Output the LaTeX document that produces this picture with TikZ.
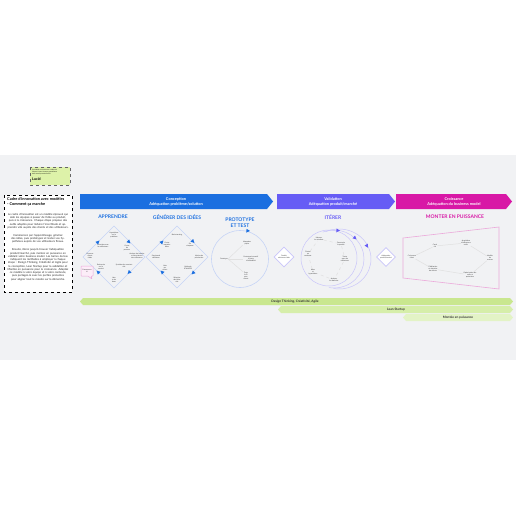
\documentclass[tikz,border=0pt]{standalone}
\usepackage{fontspec}
\setmainfont{Lato}
\usetikzlibrary{arrows.meta,shapes.geometric,positioning}

\definecolor{band}{HTML}{F1F2F4}
\definecolor{concept}{HTML}{1B6FE0}
\definecolor{valid}{HTML}{665CF5}
\definecolor{growth}{HTML}{D818A6}
\definecolor{rim}{HTML}{C6D4F6}
\definecolor{vrim}{HTML}{C9C5FA}
\definecolor{grim}{HTML}{EBA9DA}
\definecolor{greenA}{HTML}{C9E78F}
\definecolor{greenB}{HTML}{D6EEAA}
\definecolor{greenC}{HTML}{E3F3C6}
\definecolor{note}{HTML}{DDF2A9}

\tikzset{
  tiny/.style={font=\fontsize{1.7}{2}\selectfont, align=center, text=black!80, inner sep=0.2pt},
  prose/.style={font=\fontsize{2.75}{3.25}\selectfont, align=center, text=black!85, inner sep=0pt, text width=62},
  banner/.style={text=white, font=\fontsize{3.9}{4.8}\selectfont\bfseries, align=center},
  phase/.style={font=\fontsize{5}{5.8}\selectfont\bfseries, align=center},
  bartext/.style={font=\fontsize{3.2}{3.5}\selectfont\bfseries, text=black!80},
  link/.style={draw=black!12, line width=0.5pt},
  loop/.style={draw=vrim, line width=0.5pt}
}

% small arrow tip on a path
\newcommand{\tip}[4]{%
  \fill[#4, shift={(#1,#2)}, rotate=#3] (2,0) -- (-1.6,1.9) -- (-1.6,-1.9) -- cycle;}

\begin{document}
\begin{tikzpicture}[x=1pt, y=-1pt]
  \useasboundingbox (0,0) rectangle (516,516);
  \fill[white] (0,0) rectangle (516,516);
  \fill[band] (0,155) rectangle (516,360);

  % note and explanation
  \draw[dashed, draw=black!60, fill=note, line width=0.3pt] (30,167) rectangle (70,185);
  \node[anchor=north west, align=left, inner sep=0, font=\fontsize{1.5}{1.9}\selectfont] (notetxt) at (32,169)
        {Ce modèle a été créé avec Lucidspark.\\Cliquez ici pour l'essayer gratuitement\\dans votre espace de travail.};
  \node[anchor=north west, inner sep=0, font=\fontsize{3.6}{4}\selectfont\bfseries] (lucid) at (32,177.5) {Lucid};
  \draw[dashed, line width=0.5pt, fill=white] (4,195) rectangle (72,292);
  \node[anchor=north west, align=left, inner sep=0, font=\fontsize{3.9}{4.9}\selectfont\bfseries] (howto) at (7,197.5)
        {Cadre d'innovation avec modèles\\- Comment ça marche};
  \node[prose, anchor=north] (par1) at (38,213)
        {Le cadre d'innovation est un modèle éprouvé qui aide les équipes à passer de l'idée au produit, puis à la croissance. Chaque étape propose des outils adaptés pour réduire l'incertitude et apprendre vite auprès des clients et des utilisateurs.};
  \node[prose, below=5pt of par1] (par2)
        {Commencez par l'apprentissage, générez des idées, puis prototypez et testez vos hypothèses auprès de vos utilisateurs finaux.};
  \node[prose, below=5pt of par2] (par3)
        {Ensuite, itérez jusqu'à trouver l'adéquation produit/marché, puis montez en puissance en validant votre business model. Les barres du bas indiquent les méthodes à employer à chaque étape : Design Thinking, Créativité et Agile pour la conception, Lean Startup pour la validation et Montée en puissance pour la croissance. Adaptez ce modèle à votre équipe et à votre contexte, puis partagez-le avec les parties prenantes pour aligner tout le monde sur la démarche.};

  % phase banners
  \fill[concept] (80,194) -- (267,194) -- (273,201.5) -- (267,209) -- (80,209) -- cycle;
  \node[banner] (conc) at (176,201.5) {Conception\\Adéquation problème/solution};
  \fill[valid] (277,194) -- (389,194) -- (395,201.5) -- (389,209) -- (277,209) -- cycle;
  \node[banner] (valid) at (333,201.5) {Validation\\Adéquation produit/marché};
  \fill[growth] (396,194) -- (506,194) -- (512,201.5) -- (506,209) -- (396,209) -- cycle;
  \node[banner] (grow) at (454,201.5) {Croissance\\Adéquation du business model};

  \node[phase, text=concept] (learn) at (113,217) {APPRENDRE};
  \node[phase, text=concept] (ideas) at (177,217) {GÉNÉRER DES IDÉES};
  \node[phase, text=concept] (proto) at (240,222.5) {PROTOTYPE\\ET TEST};
  \node[phase, text=valid] (iter) at (333,217) {ITÉRER};
  \node[phase, text=growth] (scale) at (455,217) {MONTER EN PUISSANCE};

  % learn diamond
  \draw[rim, line width=0.6pt] (114,226) -- (145,257) -- (114,288) -- (83,257) -- cycle;
  \node[tiny] (l1) at (114,235) {Hypothèses\\sur le\\problème};
  \node[tiny] (l2) at (103,246) {Entretiens avec\\les utilisateurs};
  \node[tiny] (l3) at (127,248) {Cartes\\de\\parcours};
  \node[tiny] (l4) at (90,256) {Personas\\clients\\cibles};
  \node[tiny] (l5) at (137,256) {Analyse des besoins\\et des attentes\\des utilisateurs};
  \node[tiny] (l6) at (101,267) {Recherche\\sur le\\marché};
  \node[tiny] (l7) at (124,266) {Synthèse des constats\\clés};
  \node[tiny] (l8) at (114,280) {Jobs\\to be\\done};
  \tip{98}{242}{45}{concept}
  \tip{129}{242}{-45}{concept}
  \tip{129}{272.5}{-135}{concept}
  \tip{98}{272}{135}{concept}
  \draw[draw=grim, fill=growth!8, line width=0.5pt, rounded corners=0.6pt]
       (81,266) -- (93,266) -- (93,276) -- (91,276) -- (92,279) -- (88,276) -- (81,276) -- cycle;
  \node[tiny] (start) at (87,271) {Commencez\\ici};

  % ideas diamond
  \draw[rim, line width=0.6pt] (177,226) -- (208,257) -- (177,288) -- (146,257) -- cycle;
  \node[tiny] (i1) at (177,235) {Brainstorming};
  \node[tiny] (i2) at (167,245) {Cartes\\mentales\\idées};
  \node[tiny] (i3) at (190,245) {Six\\chapeaux};
  \node[tiny] (i4) at (156,257) {Storyboard\\utilisateur};
  \node[tiny] (i5) at (199,257) {Matrice de\\priorisation};
  \node[tiny] (i6) at (165,268) {Vote\\par\\points};
  \node[tiny] (i7) at (188,268) {Méthode\\SCAMPER};
  \node[tiny] (i8) at (177,280) {Sélection\\des idées\\clés};
  \tip{162}{242}{45}{concept}
  \tip{193}{241.5}{-45}{concept}
  \tip{193}{273}{-135}{concept}
  \tip{162}{272}{135}{concept}

  % prototype circle
  \draw[rim, line width=0.6pt] (240,259) circle (28.5);
  \tip{248}{230.8}{-5}{concept}
  \node[tiny] (p0) at (224,259) {Prototype};
  \node[tiny] (p1) at (247,243) {Maquettes\\papier};
  \node[tiny] (p2) at (251,259) {Prototype interactif\\et tests\\d'utilisabilité};
  \node[tiny] (p3) at (246,276) {Tests\\A/B\\avec\\clients};
  \draw[link] (p0.east) -- (p1.south west);
  \draw[link] (p0.east) -- (p2.west);
  \draw[link] (p0.east) -- (p3.north west);

  % iterate
  \node[diamond, draw=vrim, fill=white, line width=0.7pt, minimum width=20, minimum height=20, inner sep=0] (d1) at (284,257) {};
  \node[tiny] at (d1) {Produit\\minimum viable};
  \draw[loop] (329,258) circle (28);
  \draw[loop] (334,259) ++(-112:30 and 29) arc (-112:100:30 and 29);
  \draw[loop] (339,259) ++(-115:32 and 30) arc (-115:100:32 and 30);
  \tip{338}{230.5}{-5}{valid}
  \tip{355}{238}{-40}{valid}
  \tip{367}{246}{-60}{valid}
  \node[tiny] (v1) at (319,239) {Mesurer\\les résultats};
  \node[tiny] (v2) at (341,244) {Construire\\le produit};
  \node[tiny] (v3) at (308,254) {Pivoter\\ou\\continuer};
  \node[tiny] (v4) at (345,259) {Tester\\avec des\\utilisateurs};
  \node[tiny] (v5) at (313,272) {Idées\\et\\hypothèses};
  \node[tiny] (v6) at (334,280) {Analyser\\les données};
  \draw[link, dashed] (v1) -- (v2);
  \draw[link, dashed] (v2) -- (v4);
  \draw[link, dashed] (v4) -- (v6);
  \draw[link, dashed] (v6) -- (v5);
  \draw[link, dashed] (v5) -- (v3);
  \draw[link, dashed] (v3) -- (v1);

  % scale up
  \node[diamond, draw=vrim, fill=white, line width=0.7pt, minimum width=19, minimum height=19, inner sep=0] (d2) at (386,257) {};
  \node[tiny] at (d2) {Adéquation\\produit/marché};
  \draw[grim, line width=0.6pt] (403,238) -- (499,227) -- (499,289) -- (403,278) -- cycle;
  \node[tiny] (s0) at (412,257) {Croissance\\client};
  \node[tiny] (s1) at (435,246) {Canal\\clé};
  \node[tiny] (s2) at (466,243) {Acquisition\\d'utilisateurs\\actifs};
  \node[tiny] (s3) at (490,258) {Modèle\\de\\revenus};
  \node[tiny] (s4) at (433,269) {Fidélisation\\et rétention\\des clients};
  \node[tiny] (s5) at (470,275) {Optimisation des\\coûts et\\opérations};
  \draw[link] (s0) -- (s1);
  \draw[link] (s1) -- (s2);
  \draw[link] (s2) -- (s3);
  \draw[link] (s0) -- (s4);
  \draw[link] (s4) -- (s5);
  \draw[link] (s5) -- (s3);

  % method bars
  \fill[greenA] (80,301.5) -- (83,298) -- (510,298) -- (513,301.5) -- (510,305) -- (83,305) -- cycle;
  \node[bartext] (dt) at (295,301.5) {Design Thinking, Créativité, Agile};
  \fill[greenB] (278,309.5) -- (281,306) -- (510,306) -- (513,309.5) -- (510,313) -- (281,313) -- cycle;
  \node[bartext] (ls) at (396,309.5) {Lean Startup};
  \fill[greenC] (403,317.5) -- (406,314) -- (510,314) -- (513,317.5) -- (510,321) -- (406,321) -- cycle;
  \node[bartext] (mp) at (458,317.5) {Montée en puissance};
\end{tikzpicture}
\end{document}
